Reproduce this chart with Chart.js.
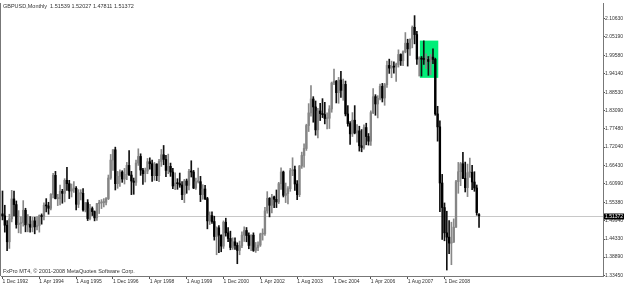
<!DOCTYPE html>
<html>
<head>
<meta charset="utf-8">
<script src="https://cdn.jsdelivr.net/npm/chart.js@4.4.1/dist/chart.umd.min.js"></script>
<style>
  html, body { margin: 0; padding: 0; background: #fff; }
  #chart { display: block; }
</style>
</head>
<body>
<canvas id="chart" width="625" height="286"></canvas>
<script>
// GBPUSD monthly bars, Dec 1992 .. Mar 2010 (one value per month)
const opens = [
  1.5190,
  1.5130,1.4850,1.4350,1.5040,1.5640,1.5470,1.4870,1.4900,1.4930,1.5300,1.4860,1.4870,
  1.4790,1.4980,1.4800,1.4840,1.5140,1.5110,1.5450,1.5430,1.5360,1.5780,1.6350,1.5650,
  1.5650,1.5870,1.5810,1.6200,1.6100,1.5880,1.5940,1.5960,1.5480,1.5810,1.5810,1.5310,
  1.5530,1.5050,1.5350,1.5260,1.5070,1.5500,1.5520,1.5530,1.5540,1.5650,1.6270,1.6810,
  1.7120,1.6100,1.6320,1.6450,1.6240,1.6380,1.6650,1.6360,1.6180,1.6140,1.6720,1.6920,
  1.6510,1.6400,1.6480,1.6760,1.6700,1.6340,1.6690,1.6340,1.6770,1.6970,1.6830,1.6500,
  1.6620,1.6450,1.6030,1.6120,1.6100,1.6060,1.5770,1.6180,1.6050,1.6470,1.6450,1.5970,
  1.6160,1.6160,1.5770,1.5940,1.5650,1.4980,1.5140,1.4960,1.4510,1.4770,1.4550,1.4220,
  1.4940,1.4620,1.4450,1.4180,1.4350,1.4240,1.4090,1.4230,1.4550,1.4690,1.4540,1.4240,
  1.4550,1.4090,1.4170,1.4250,1.4580,1.4590,1.5280,1.5660,1.5450,1.5700,1.5630,1.5550,
  1.6100,1.6450,1.5750,1.5800,1.5950,1.6490,1.6520,1.6090,1.5770,1.6630,1.6950,1.7160,
  1.7850,1.8230,1.8650,1.8410,1.7720,1.8290,1.8210,1.8180,1.8060,1.8070,1.8350,1.9130,
  1.9180,1.8840,1.9220,1.8910,1.9090,1.8200,1.7910,1.7600,1.8010,1.7630,1.7690,1.7240,
  1.7190,1.7790,1.7520,1.7380,1.8240,1.8720,1.8500,1.8670,1.9030,1.8680,1.9080,1.9660,
  1.9580,1.9630,1.9610,1.9690,1.9990,1.9800,2.0070,2.0330,2.0160,2.0450,2.0810,2.0590,
  1.9850,1.9880,1.9850,1.9840,1.9840,1.9780,1.9910,1.9840,1.8200,1.7810,1.6120,1.5380,
  1.4620,1.4490,1.4310,1.4340,1.4790,1.6160,1.6460,1.6700,1.6260,1.5980,1.6430,1.6440,
  1.6150,1.5970,1.51539
];
const highs = [
  1.5880,
  1.5450,1.4990,1.5180,1.5900,1.5880,1.5580,1.5290,1.5100,1.5590,1.5360,1.5170,1.5110,
  1.5090,1.5090,1.5110,1.5160,1.5190,1.5520,1.5650,1.5540,1.5800,1.6410,1.6470,1.5780,
  1.6060,1.5930,1.6250,1.6590,1.6200,1.6090,1.6160,1.6010,1.5920,1.5920,1.5950,1.5530,
  1.5620,1.5480,1.5400,1.5280,1.5510,1.5600,1.5620,1.5650,1.5680,1.6360,1.6980,1.7130,
  1.7200,1.6470,1.6520,1.6490,1.6560,1.6740,1.7100,1.6470,1.6270,1.6810,1.7150,1.7000,
  1.6560,1.6570,1.6860,1.6880,1.6810,1.6740,1.6700,1.6830,1.7130,1.7250,1.6950,1.6990,
  1.6720,1.6560,1.6430,1.6250,1.6420,1.6160,1.6230,1.6240,1.6530,1.6790,1.6500,1.6270,
  1.6570,1.6320,1.6070,1.6050,1.5690,1.5250,1.5250,1.5120,1.4800,1.4840,1.4560,1.4980,
  1.5060,1.4780,1.4670,1.4470,1.4470,1.4320,1.4370,1.4650,1.4800,1.4780,1.4620,1.4560,
  1.4620,1.4330,1.4350,1.4610,1.4740,1.5390,1.5860,1.5680,1.5780,1.5730,1.5910,1.6140,
  1.6580,1.6480,1.6120,1.6010,1.6560,1.6880,1.6630,1.6190,1.6650,1.7050,1.7300,1.7890,
  1.8510,1.9050,1.8720,1.8590,1.8370,1.8520,1.8660,1.8550,1.8230,1.8450,1.9160,1.9550,
  1.9210,1.9300,1.9480,1.9250,1.9190,1.8450,1.7970,1.8240,1.8450,1.7880,1.7830,1.7730,
  1.7870,1.7920,1.7610,1.8290,1.8960,1.8780,1.8750,1.9100,1.9120,1.9120,1.9790,1.9850,
  1.9790,1.9770,1.9730,2.0130,2.0010,2.0100,2.0650,2.0450,2.0460,2.0850,2.1160,2.0690,
  1.9920,1.9930,2.0400,2.0010,1.9930,1.9990,2.0160,1.9880,1.8430,1.7990,1.6380,1.5520,
  1.5270,1.4990,1.4940,1.5040,1.6200,1.6740,1.6740,1.7040,1.6750,1.6690,1.6870,1.6650,
  1.6460,1.6060,1.52027
];
const lows = [
  1.5010,
  1.4640,1.4080,1.4150,1.4950,1.5130,1.4760,1.4620,1.4600,1.4820,1.4650,1.4650,1.4640,
  1.4650,1.4590,1.4710,1.4640,1.4880,1.5010,1.5250,1.5180,1.5310,1.5670,1.5640,1.5440,
  1.5460,1.5510,1.5550,1.5900,1.5650,1.5700,1.5840,1.5310,1.5380,1.5610,1.5270,1.5250,
  1.4990,1.5010,1.5140,1.4980,1.4990,1.5200,1.5350,1.5400,1.5460,1.5620,1.6230,1.6500,
  1.5910,1.5960,1.6020,1.6140,1.6090,1.6220,1.6350,1.5770,1.5780,1.6050,1.6650,1.6350,
  1.6080,1.6150,1.6400,1.6540,1.6170,1.6200,1.6190,1.6160,1.6620,1.6670,1.6310,1.6400,
  1.6320,1.5950,1.5920,1.5930,1.5990,1.5620,1.5530,1.5810,1.5910,1.6300,1.5950,1.5930,
  1.6120,1.5560,1.5630,1.5620,1.4740,1.4870,1.4900,1.4400,1.3960,1.4020,1.4050,1.4150,
  1.4520,1.4350,1.4110,1.4120,1.4120,1.3690,1.3960,1.4170,1.4360,1.4350,1.4140,1.4080,
  1.4060,1.4030,1.4080,1.4210,1.4400,1.4540,1.5210,1.5100,1.5220,1.5380,1.5380,1.5500,
  1.5930,1.5700,1.5530,1.5490,1.5870,1.6340,1.5900,1.5620,1.5710,1.6560,1.6600,1.7100,
  1.7670,1.8130,1.7950,1.7560,1.7480,1.8000,1.8090,1.7900,1.7750,1.7760,1.8250,1.9080,
  1.8530,1.8520,1.8700,1.8610,1.8140,1.7830,1.7280,1.7520,1.7600,1.7350,1.7080,1.7060,
  1.7140,1.7270,1.7260,1.7250,1.8210,1.8160,1.8080,1.8620,1.8560,1.8460,1.9000,1.9420,
  1.9290,1.9430,1.9180,1.9610,1.9660,1.9650,2.0040,1.9640,1.9960,2.0190,2.0310,1.9690,
  1.9340,1.9340,1.9690,1.9560,1.9360,1.9380,1.9710,1.8160,1.7380,1.5260,1.4420,1.4380,
  1.3500,1.3990,1.3660,1.4330,1.4780,1.5810,1.6040,1.6250,1.5850,1.5710,1.6290,1.5920,
  1.5870,1.5150,1.47811
];
const closes = [
  1.5130,
  1.4850,1.4350,1.5040,1.5640,1.5470,1.4870,1.4900,1.4930,1.5300,1.4860,1.4870,1.4790,
  1.4980,1.4800,1.4840,1.5140,1.5110,1.5450,1.5430,1.5360,1.5780,1.6350,1.5650,1.5650,
  1.5870,1.5810,1.6200,1.6100,1.5880,1.5940,1.5960,1.5480,1.5810,1.5810,1.5310,1.5530,
  1.5050,1.5350,1.5260,1.5070,1.5500,1.5520,1.5530,1.5540,1.5650,1.6270,1.6810,1.7120,
  1.6100,1.6320,1.6450,1.6240,1.6380,1.6650,1.6360,1.6180,1.6140,1.6720,1.6920,1.6510,
  1.6400,1.6480,1.6760,1.6700,1.6340,1.6690,1.6340,1.6770,1.6970,1.6830,1.6500,1.6620,
  1.6450,1.6030,1.6120,1.6100,1.6060,1.5770,1.6180,1.6050,1.6470,1.6450,1.5970,1.6160,
  1.6160,1.5770,1.5940,1.5650,1.4980,1.5140,1.4960,1.4510,1.4770,1.4550,1.4220,1.4940,
  1.4620,1.4450,1.4180,1.4350,1.4240,1.4090,1.4230,1.4550,1.4690,1.4540,1.4240,1.4550,
  1.4090,1.4170,1.4250,1.4580,1.4590,1.5280,1.5660,1.5450,1.5700,1.5630,1.5550,1.6100,
  1.6450,1.5750,1.5800,1.5950,1.6490,1.6520,1.6090,1.5770,1.6630,1.6950,1.7160,1.7850,
  1.8230,1.8650,1.8410,1.7720,1.8290,1.8210,1.8180,1.8060,1.8070,1.8350,1.9130,1.9180,
  1.8840,1.9220,1.8910,1.9090,1.8200,1.7910,1.7600,1.8010,1.7630,1.7690,1.7240,1.7190,
  1.7790,1.7520,1.7380,1.8240,1.8720,1.8500,1.8670,1.9030,1.8680,1.9080,1.9660,1.9580,
  1.9630,1.9610,1.9690,1.9990,1.9800,2.0070,2.0330,2.0160,2.0450,2.0810,2.0590,1.9850,
  1.9880,1.9850,1.9840,1.9840,1.9780,1.9910,1.9840,1.8200,1.7810,1.6120,1.5380,1.4620,
  1.4490,1.4310,1.4340,1.4790,1.6160,1.6460,1.6700,1.6260,1.5980,1.6430,1.6440,1.6150,
  1.5970,1.5230,1.51372
];

const priceTicks = [2.10630, 2.05190, 1.99580, 1.94140, 1.88530, 1.83090, 1.77480,
  1.72040, 1.66430, 1.60990, 1.55380, 1.49940, 1.44330, 1.38890, 1.33450];
const dateTicks = ["1 Dec 1992", "1 Apr 1994", "1 Aug 1995", "1 Dec 1996", "1 Apr 1998",
  "1 Aug 1999", "1 Dec 2000", "1 Apr 2002", "1 Aug 2003", "1 Dec 2004", "1 Apr 2006",
  "1 Aug 2007", "1 Dec 2008"];
const monthsPerLabel = 16;

const title = "GBPUSD,Monthly  1.51539 1.52027 1.47811 1.51372";
const footer = "FxPro MT4, \u00a9 2001-2008 MetaQuotes Software Corp.";
// rectangle object drawn on the chart (bar index / price)
const rectObj = { from: 181.3, to: 189.3, top: 2.0408, bottom: 1.9286 };

const lastClose = closes[closes.length - 1];
const isUp = opens.map((o, i) => closes[i] >= o);

const FONT = '"Liberation Sans", Arial, sans-serif';

const mt4Overlay = {
  id: 'mt4Overlay',
  beforeDatasetsDraw(chart) {
    const { ctx, chartArea: a, scales: { x, y } } = chart;
    ctx.save();
    // green rectangle
    const x1 = x.getPixelForValue(rectObj.from), x2 = x.getPixelForValue(rectObj.to);
    const y1 = y.getPixelForValue(rectObj.top), y2 = y.getPixelForValue(rectObj.bottom);
    ctx.fillStyle = '#00ee78';
    ctx.fillRect(x1, y1, x2 - x1, y2 - y1);
    // bid line
    const yb = Math.round(y.getPixelForValue(lastClose)) + 0.5;
    ctx.strokeStyle = '#c8c8c8';
    ctx.lineWidth = 1;
    ctx.beginPath();
    ctx.moveTo(a.left, yb);
    ctx.lineTo(a.right, yb);
    ctx.stroke();
    ctx.restore();
  },
  afterDraw(chart) {
    const { ctx, chartArea: a, scales: { y } } = chart;
    ctx.save();
    // left frame line
    ctx.strokeStyle = '#777';
    ctx.lineWidth = 1;
    ctx.beginPath();
    ctx.moveTo(a.left - 0.5, a.top);
    ctx.lineTo(a.left - 0.5, a.bottom);
    ctx.stroke();
    // texts inside the chart
    ctx.fillStyle = '#333';
    ctx.textBaseline = 'middle';
    ctx.font = '5.5px ' + FONT;
    ctx.fillText(title, 3, 6);
    ctx.fillText(footer, 3, 271);
    // current price box on the axis
    const yb = Math.round(y.getPixelForValue(lastClose)) + 0.5;
    ctx.fillStyle = '#000';
    ctx.fillRect(a.right + 1, yb - 3, 20, 6);
    ctx.fillStyle = '#fff';
    ctx.font = '5px ' + FONT;
    ctx.fillText(lastClose.toFixed(5), a.right + 2, yb);
    ctx.restore();
  }
};

new Chart(document.getElementById('chart'), {
  type: 'bar',
  data: {
    datasets: [
      {
        label: 'High-Low',
        data: opens.map((o, i) => ({ x: i, y: [lows[i], highs[i]] })),
        backgroundColor: isUp.map(u => u ? '#888' : '#111'),
        barThickness: 1,
        grouped: false,
        order: 2
      },
      {
        label: 'Open-Close',
        data: opens.map((o, i) => ({ x: i, y: [o, closes[i]] })),
        backgroundColor: isUp.map(u => u ? '#858585' : '#000'),
        barThickness: 1.7,
        minBarLength: 1,
        grouped: false,
        order: 1
      }
    ]
  },
  options: {
    responsive: false,
    animation: false,
    devicePixelRatio: 1,
    layout: { padding: { left: 1, top: 0, right: 0, bottom: 0 } },
    plugins: { legend: { display: false }, tooltip: { enabled: false } },
    scales: {
      x: {
        type: 'linear',
        offset: false,
        min: -0.65,
        max: 260.85,
        afterFit(s) { s.height = 10; s.paddingLeft = 0; s.paddingRight = 0; },
        afterBuildTicks(s) { s.ticks = dateTicks.map((_, i) => ({ value: i * monthsPerLabel })); },
        grid: { offset: false, drawOnChartArea: false, drawTicks: true, tickLength: 3, color: '#555' },
        border: { display: true, color: '#777' },
        ticks: {
          callback: (v, i) => dateTicks[i],
          font: { family: FONT, size: 5 },
          color: '#333',
          align: 'start',
          padding: 0,
          maxRotation: 0,
          autoSkip: false
        }
      },
      y: {
        position: 'right',
        min: 1.3320,
        max: 2.1540,
        afterFit(s) { s.width = 22; },
        afterBuildTicks(s) { s.ticks = priceTicks.map(v => ({ value: v })); },
        grid: { drawOnChartArea: false, drawTicks: true, tickLength: 2, color: '#555' },
        border: { display: true, color: '#777' },
        ticks: {
          callback: v => v.toFixed(5),
          font: { family: FONT, size: 5 },
          color: '#333',
          padding: 0
        }
      }
    }
  },
  plugins: [mt4Overlay]
});
</script>
</body>
</html>
